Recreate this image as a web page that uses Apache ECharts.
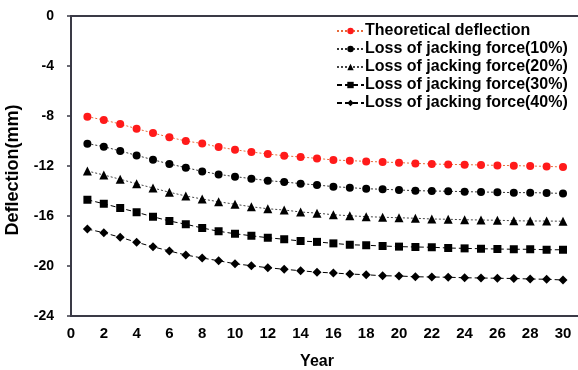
<!DOCTYPE html>
<html><head><meta charset="utf-8">
<script src="https://cdn.jsdelivr.net/npm/echarts@6/dist/echarts.min.js"></script>
<style>html,body{margin:0;padding:0;background:#fff}#c{width:578px;height:370px}</style>
</head><body><div id="c"></div>
<script>
var years = [1,2,3,4,5,6,7,8,9,10,11,12,13,14,15,16,17,18,19,20,21,22,23,24,25,26,27,28,29,30];
var xTicks = [0,2,4,6,8,10,12,14,16,18,20,22,24,26,28,30];
var yTicks = [0,-4,-8,-12,-16,-20,-24];
var theoretical = [-8.05,-8.32,-8.64,-9.02,-9.36,-9.70,-10.0,-10.2,-10.48,-10.7,-10.88,-11.04,-11.18,-11.28,-11.39,-11.52,-11.57,-11.63,-11.68,-11.73,-11.79,-11.84,-11.87,-11.89,-11.92,-11.95,-11.97,-12.0,-12.03,-12.08];
var loss10 = [-10.21,-10.45,-10.8,-11.15,-11.5,-11.84,-12.13,-12.43,-12.67,-12.85,-13.01,-13.17,-13.28,-13.41,-13.52,-13.65,-13.73,-13.82,-13.86,-13.92,-13.97,-14.0,-14.02,-14.05,-14.08,-14.1,-14.13,-14.13,-14.16,-14.19];
var loss20 = [-12.4,-12.72,-13.06,-13.42,-13.76,-14.1,-14.4,-14.64,-14.86,-15.06,-15.26,-15.42,-15.52,-15.68,-15.77,-15.9,-15.98,-16.05,-16.1,-16.14,-16.18,-16.24,-16.26,-16.3,-16.32,-16.34,-16.38,-16.4,-16.4,-16.42];
var loss30 = [-14.7,-15.02,-15.36,-15.7,-16.06,-16.4,-16.66,-16.96,-17.22,-17.42,-17.58,-17.74,-17.86,-18.0,-18.07,-18.19,-18.3,-18.34,-18.4,-18.45,-18.48,-18.5,-18.56,-18.59,-18.62,-18.64,-18.66,-18.66,-18.7,-18.7];
var loss40 = [-17.04,-17.34,-17.7,-18.1,-18.46,-18.8,-19.12,-19.36,-19.58,-19.82,-19.98,-20.14,-20.26,-20.38,-20.49,-20.56,-20.64,-20.7,-20.78,-20.8,-20.86,-20.88,-20.9,-20.94,-20.96,-20.98,-21.0,-21.04,-21.06,-21.12];
var names = ['Theoretical deflection','Loss of jacking force(10%)','Loss of jacking force(20%)','Loss of jacking force(30%)','Loss of jacking force(40%)'];

function pairs(arr){ return years.map(function(y,i){ return [y, arr[i]]; }); }
var axisColor = '#3a3a46';
var font = 'Arial, "Liberation Sans", sans-serif';

var chart = echarts.init(document.getElementById('c'), null, {renderer:'canvas'});
function mk(name, data, color, symbol, size, lineType, lineColor){
  return {name:name, type:'line', xAxisIndex:0, yAxisIndex:0, data:pairs(data), symbol:symbol, symbolSize:size,
    itemStyle:{color:color}, lineStyle:{color:lineColor||color, width:1, type:lineType}, animation:false};
}
chart.setOption({
  animation:false,
  grid:[
    {left:71, right:15, top:16, bottom:54, containLabel:false, outerBoundsMode:'none'},
    {left:71, right:-4, top:16, bottom:54, containLabel:false, outerBoundsMode:'none'}
  ],
  legend:{
    orient:'vertical', left:331, top:18, itemWidth:27, itemHeight:8, itemGap:2,
    textStyle:{fontFamily:font, fontWeight:'bold', fontSize:16, color:'#000', lineHeight:16, padding:[0,0,0,-4]},
    data:names
  },
  xAxis:[
    {type:'value', gridIndex:0, min:0, max:30, interval:2,
     name:'Year', nameLocation:'middle', nameGap:38,
     nameTextStyle:{fontFamily:font, fontWeight:'bold', fontSize:16, color:'#000'},
     axisLine:{show:false}, axisTick:{show:false}, splitLine:{show:false},
     axisLabel:{fontFamily:font, fontWeight:'bold', fontSize:15, color:'#000', margin:10,
       formatter:function(v){ return xTicks.indexOf(v)>=0 ? String(v) : ''; }}},
    {type:'value', gridIndex:1, min:0, max:1, position:'bottom',
     axisLine:{show:true, onZero:false, lineStyle:{color:axisColor, width:2}},
     axisTick:{show:false}, axisLabel:{show:false}, splitLine:{show:false}},
    {type:'value', gridIndex:1, min:0, max:1, position:'top',
     axisLine:{show:true, onZero:false, lineStyle:{color:axisColor, width:2}},
     axisTick:{show:false}, axisLabel:{show:false}, splitLine:{show:false}}
  ],
  yAxis:[
    {type:'value', gridIndex:0, min:-24, max:0, interval:4,
     name:'Deflection(mm)', nameLocation:'middle', nameGap:49, nameRotate:90,
     nameTextStyle:{fontFamily:font, fontWeight:'bold', fontSize:18, color:'#000', padding:[0,0,0,-8]},
     axisLine:{show:true, onZero:false, lineStyle:{color:axisColor, width:2}},
     axisTick:{show:true, length:4, lineStyle:{color:axisColor, width:1.5}},
     splitLine:{show:false},
     axisLabel:{fontFamily:font, fontWeight:'bold', fontSize:14, color:'#000', margin:17,
       formatter:function(v){ return yTicks.indexOf(v)>=0 ? String(v) : ''; }}},
    {type:'value', gridIndex:1, min:0, max:1, show:false}
  ],
  series:[
    mk(names[0], theoretical, '#ff1a1a', 'circle', 8, [2,2], '#e86a3a'),
    mk(names[1], loss10, '#000', 'circle', 8, [2,2], '#333'),
    mk(names[2], loss20, '#000', 'triangle', 9, [2,2], '#444'),
    mk(names[3], loss30, '#000', 'rect', 8, [5,3], '#000'),
    mk(names[4], loss40, '#000', 'diamond', 9, [5,3], '#000')
  ]
});
</script></body></html>
